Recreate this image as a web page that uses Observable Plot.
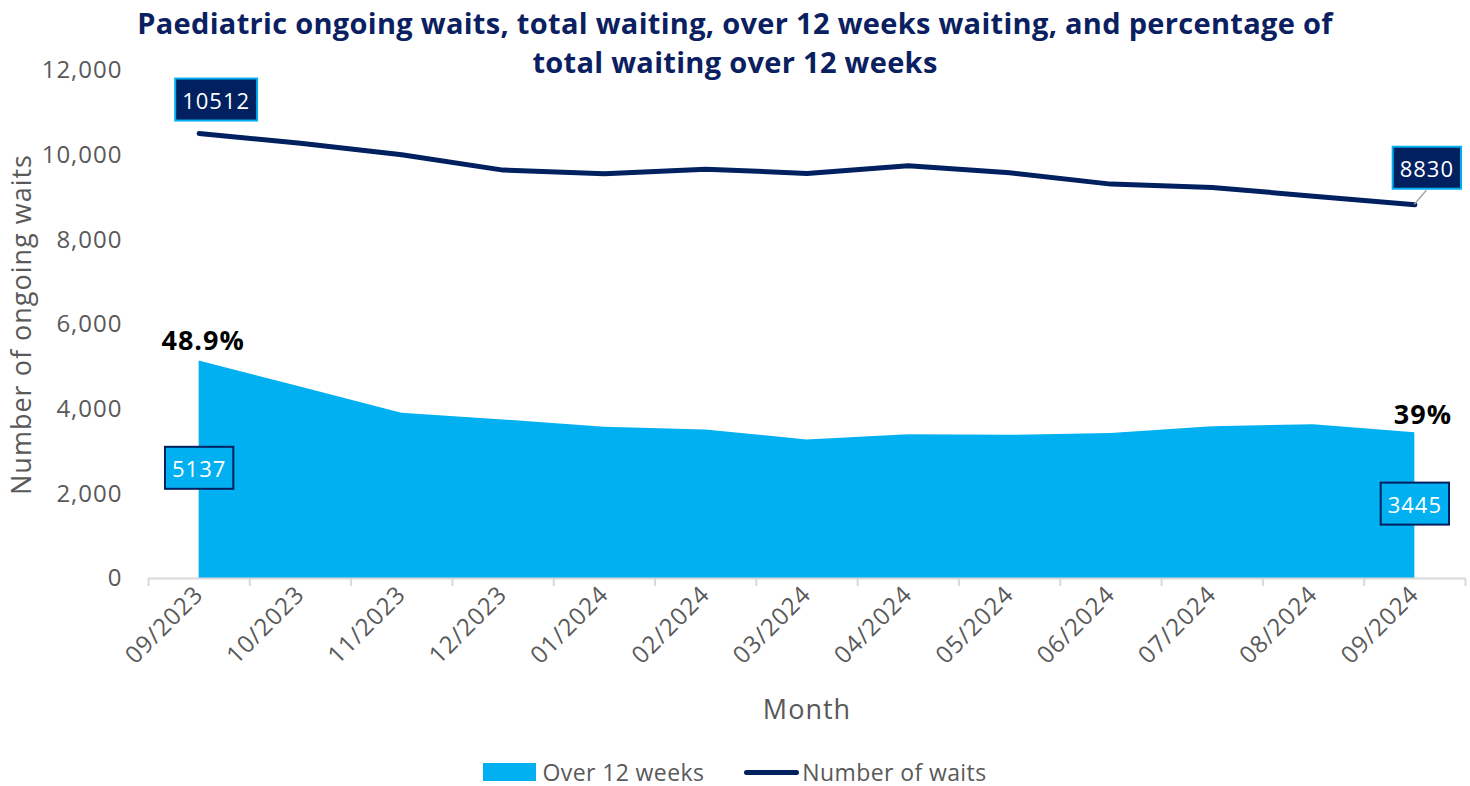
<!DOCTYPE html>
<html>
<head>
<meta charset="utf-8">
<script src="https://cdn.jsdelivr.net/npm/d3@7"></script>
<script src="https://cdn.jsdelivr.net/npm/@observablehq/plot@0.6"></script>
<style>
  html, body { margin: 0; padding: 0; background: #ffffff; }
  body { font-family: "Open Sans", sans-serif; }
  #wrap { position: relative; width: 1470px; height: 786px; }
  #title {
    position: absolute; left: 0; top: 3px; width: 1470px; text-align: center;
    font-weight: 700; font-size: 29px; letter-spacing: 0.3px; line-height: 39px; color: #0b2060; z-index: 2;
  }
  #chart { position: absolute; left: 0; top: 0; }
  #legend {
    position: absolute; left: 0; top: 758px; width: 1470px; height: 28px; line-height: 28px;
    display: flex; justify-content: center; align-items: center;
    font-size: 23px; letter-spacing: 0.4px; color: #595959;
  }
  .sw-area { display: inline-block; width: 53px; height: 18px; background: #00b0f0; margin-right: 6px; }
  .sw-line { display: inline-block; width: 55px; height: 5px; border-radius: 3px; background: #002060; margin-right: 3px; }
  .item { display: flex; align-items: center; }
  .gap { width: 40px; }
</style>
</head>
<body>
<div id="wrap">
  <div id="title">Paediatric ongoing waits, total waiting, over 12 weeks waiting, and percentage of<br>total waiting over 12 weeks</div>
  <div id="chart"></div>
  <div id="legend">
    <div class="item"><span class="sw-area"></span><span>Over 12 weeks</span></div>
    <div class="gap"></div>
    <div class="item"><span class="sw-line"></span><span>Number of waits</span></div>
  </div>
</div>
<script>
// ---- Data ----
const months = ["09/2023", "10/2023", "11/2023", "12/2023", "01/2024", "02/2024", "03/2024",
                "04/2024", "05/2024", "06/2024", "07/2024", "08/2024", "09/2024"];
const totalWaiting = [10512, 10280, 10010, 9647, 9560, 9670, 9569, 9750, 9584, 9316, 9237, 9032, 8830];
const over12Weeks  = [5137, 4526, 3902, 3745, 3570, 3508, 3272, 3397, 3381, 3428, 3587, 3634, 3445];
const yTicks = [0, 2000, 4000, 6000, 8000, 10000, 12000];

// ---- Table built from the arrays ----
const data = months.map((m, i) => ({
  i, month: m, total: totalWaiting[i], over: over12Weeks[i],
  pct: over12Weeks[i] / totalWaiting[i]
}));
const first = [data[0]];
const last = [data[data.length - 1]];
const boundaries = d3.range(months.length + 1).map(k => k - 0.5);
const pctFmt = p => d3.format(".1%")(p).replace(".0%", "%");

const navy = "#002060";
const blue = "#00b0f0";
const grey = "#595959";

const chart = Plot.plot({
  width: 1470,
  height: 745,
  marginTop: 70,
  marginBottom: 167,
  marginLeft: 148,
  marginRight: 5,
  style: { fontFamily: "Open Sans", fontSize: "24px", letterSpacing: "1px", color: grey, background: "transparent", overflow: "visible" },
  x: { type: "linear", domain: [-0.5, months.length - 0.5] },
  y: { domain: [0, 12000] },
  marks: [
    Plot.areaY(data, { x: "i", y: "over", fill: blue, curve: "linear" }),
    Plot.ruleY([0], { stroke: "#d9d9d9", strokeWidth: 2 }),
    Plot.axisX({ ticks: boundaries, tickSize: 8, tickFormat: () => "", stroke: "#d9d9d9", strokeWidth: 2, label: null }),
    Plot.axisX({ ticks: data.map(d => d.i), tickSize: 0, tickPadding: 12, tickRotate: -45,
                 tickFormat: i => months[i], label: null, fill: grey }),
    Plot.axisY({ ticks: yTicks, tickSize: 0, tickPadding: 26, tickFormat: d3.format(","), label: null, fill: grey }),
    Plot.text(["Month"], { frameAnchor: "bottom", textAnchor: "middle", dy: 140, fontSize: 27, fill: grey }),
    Plot.text(["Number of ongoing waits"], { frameAnchor: "left", textAnchor: "middle", rotate: -90, dx: -126, fontSize: 27, fill: grey }),
    Plot.lineY(data, { x: "i", y: "total", stroke: navy, strokeWidth: 5, strokeLinecap: "round", strokeLinejoin: "round" }),
    // boxed value labels
    Plot.text(first, { x: "i", y: "total", text: d => String(d.total), dx: 17, dy: -32, fill: "white", fontSize: 22 }),
    Plot.text(last,  { x: "i", y: "total", text: d => String(d.total), dx: 12, dy: -35, fill: "white", fontSize: 22 }),
    Plot.text(first, { x: "i", y: d => d.over / 2, text: d => String(d.over), fill: "white", fontSize: 22 }),
    Plot.text(last,  { x: "i", y: d => d.over / 2, text: d => String(d.over), fill: "white", fontSize: 22 }),
    // percentage labels
    Plot.text(first, { x: "i", y: "over", text: d => pctFmt(d.pct), dx: 4, dy: -20, fill: "black", fontSize: 27, fontWeight: "bold" }),
    Plot.text(last,  { x: "i", y: "over", text: d => pctFmt(d.pct), dx: 8, dy: -17, fill: "black", fontSize: 27, fontWeight: "bold" })
  ]
});

document.getElementById("chart").append(chart);

// Add boxes behind the value labels (matched by their text content)
const NS = "http://www.w3.org/2000/svg";
const totalLabels = new Set([String(first[0].total), String(last[0].total)]);
const overLabels = new Set([String(first[0].over), String(last[0].over)]);
chart.querySelectorAll("text").forEach(t => {
  const s = t.textContent;
  let fill = null, stroke = null;
  if (totalLabels.has(s)) { fill = navy; stroke = blue; }
  else if (overLabels.has(s)) { fill = blue; stroke = navy; }
  else return;
  const b = t.getBBox();
  const padX = 7, h = 42;
  const r = document.createElementNS(NS, "rect");
  r.setAttribute("x", b.x - padX);
  r.setAttribute("y", b.y + b.height / 2 - h / 2);
  r.setAttribute("width", b.width + 2 * padX);
  r.setAttribute("height", h);
  r.setAttribute("fill", fill);
  r.setAttribute("stroke", stroke);
  r.setAttribute("stroke-width", 2);
  const tr = t.getAttribute("transform");
  if (tr) r.setAttribute("transform", tr);
  t.parentNode.insertBefore(r, t);
});

// Leader line from the last point to its label box
const xs = chart.scale("x"), ys = chart.scale("y");
const lp = last[0];
const px = xs.apply(lp.i), py = ys.apply(lp.total);
const leader = document.createElementNS(NS, "line");
leader.setAttribute("x1", px);
leader.setAttribute("y1", py);
leader.setAttribute("x2", px + 12);
leader.setAttribute("y2", py - 35 + 21);
leader.setAttribute("stroke", "#a6a6a6");
leader.setAttribute("stroke-width", 1.5);
chart.appendChild(leader);
</script>
</body>
</html>
